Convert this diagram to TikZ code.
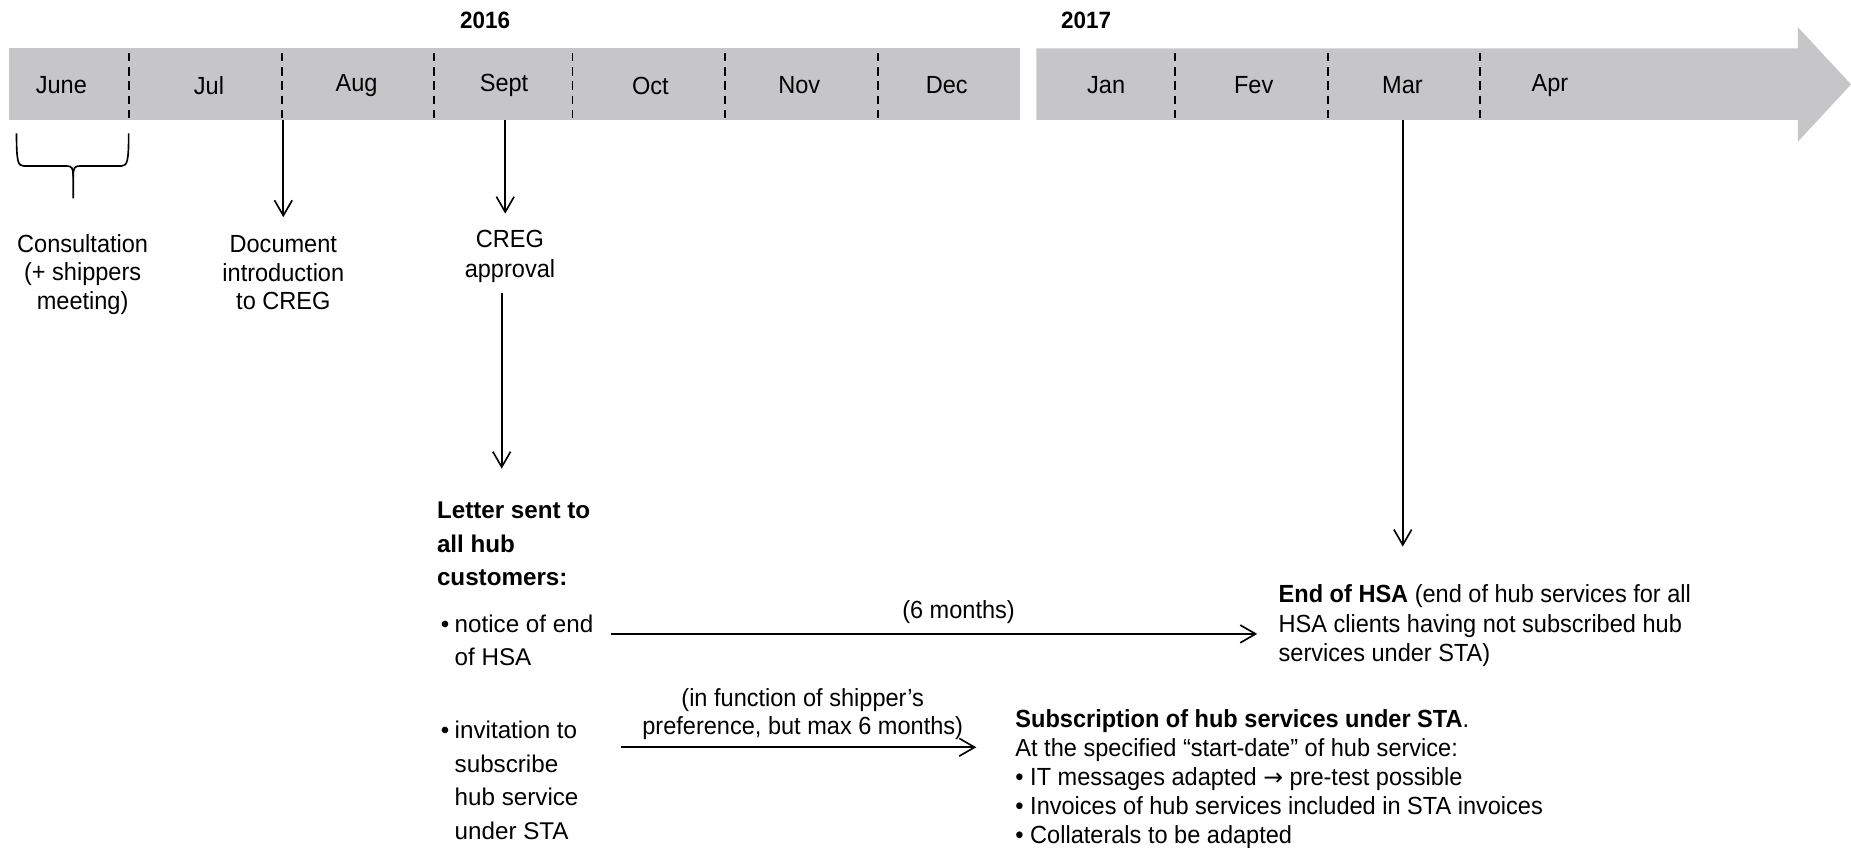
\documentclass[tikz,border=0pt]{standalone}
\usepackage{fontspec}
\setmainfont[FakeStretch=0.95]{Liberation Sans}
\newfontfamily\lettfont{Liberation Sans}
\newfontfamily\arrowfont{DejaVu Sans}
\usetikzlibrary{arrows.meta}
\definecolor{bargray}{RGB}{198,198,200}
\begin{document}
\begin{tikzpicture}[x=1pt,y=-1pt,
  txt/.style={font=\fontsize{21}{24}\selectfont, inner sep=0pt, align=center},
  month/.style={txt},
  yearlbl/.style={txt, font=\fontsize{20}{24}\selectfont\bfseries},
  lett/.style={font=\lettfont\fontsize{20.5}{28.5}\selectfont, inner sep=0pt, align=left},
  body/.style={font=\fontsize{21}{24.75}\selectfont, inner sep=0pt, align=left},
  divider/.style={line width=1.6pt, dash pattern=on 7pt off 5pt},
  arr/.style={line width=1.4pt, -{Straight Barb[length=13pt,width=15pt,line width=1.4pt]}},
  bracestyle/.style={line width=1.4pt}
]
\useasboundingbox (0,0) rectangle (1568,718);
% timeline bars
\fill[bargray] (7.6,41) rectangle (864,101.6);
\fill[bargray] (878,41) -- (1523,41) -- (1523,23) -- (1568,71.5) -- (1523,120) -- (1523,101.6) -- (878,101.6) -- cycle;
\foreach \x in {109,239,368,485,614,744,995,1125,1254}
  \draw[divider] (\x,45) -- (\x,100);
% years
\node[yearlbl] (y2016) at (411,17) {2016};
\node[yearlbl] (y2017) at (920,17) {2017};
% months
\node[month] (mjun) at (52,72.5) {June};
\node[month] (mjul) at (177,72.5) {Jul};
\node[month] (maug) at (302,72.5) {Aug};
\node[month] (msep) at (427,72.5) {Sept};
\node[month] (moct) at (551,72.5) {Oct};
\node[month] (mnov) at (677,72.5) {Nov};
\node[month] (mdec) at (802,72.5) {Dec};
\node[month] (mjan) at (937,72.5) {Jan};
\node[month] (mfev) at (1062,72.5) {Fev};
\node[month] (mmar) at (1188,72.5) {Mar};
\node[month] (mapr) at (1313,72.5) {Apr};
% brace
\draw[bracestyle] (14,113) .. controls (14,136) and (15,140.6) .. (20,140.6) -- (56,140.6) .. controls (61,140.6) and (62,142) .. (62,150) -- (62,168);
\draw[bracestyle] (109,113) .. controls (109,136) and (108,140.6) .. (103,140.6) -- (68,140.6) .. controls (63,140.6) and (62,142) .. (62,150);
% texts under timeline
\node[txt] (consult) at (70,232.5) {Consultation\\(+ shippers\\meeting)};
\node[txt] (doc) at (240,231) {Document\\introduction\\to CREG};
\node[txt, font=\fontsize{21}{25}\selectfont] (creg) at (432,217) {CREG\\approval};
% letter
\node[lett, anchor=north west] (letter) at (370,425) {\textbf{Letter sent to}\\\textbf{all hub}\\\textbf{customers:}};
\node[lett, anchor=base] (dot1) at (377,535.5) {•};
\node[lett, anchor=west] (notice) at (385,542.5) {notice of end\\of HSA};
\node[lett, anchor=base] (dot2) at (377,625.5) {•};
\node[lett, anchor=west] (invite) at (385,661) {invitation to\\subscribe\\hub service\\under STA};
% right texts
\node[body, anchor=west] (endhsa) at (1083,530) {\textbf{End of HSA} (end of hub services for all\\HSA clients having not subscribed hub\\services under STA)};
\node[body, anchor=west] (subs) at (860,660) {\textbf{Subscription of hub services under STA}.\\At the specified “start-date” of hub service:\\• IT messages adapted {\arrowfont\fontsize{20}{24}\selectfont →} pre-test possible\\• Invoices of hub services included in STA invoices\\• Collaterals to be adapted};
% arrow labels
\node[txt] (sixm) at (812,518.5) {(6 months)};
\node[txt] (infunc) at (680,605) {(in function of shipper’s\\preference, but max 6 months)};
% arrow coordinates
\coordinate (docA) at (240,102);
\coordinate (docB) at (240,184);
\coordinate (cregA) at (428,102);
\coordinate (cregB) at (428,181);
\coordinate (letA) at (425,248);
\coordinate (letB) at (425,397);
\coordinate (marA) at (1188.3,102);
\coordinate (marB) at (1188.3,463);
\coordinate (sixA) at (518,537);
\coordinate (sixB) at (1065,537);
\coordinate (funA) at (526,633);
\coordinate (funB) at (827,633);
\draw[arr] (docA) -- (docB);
\draw[arr] (cregA) -- (cregB);
\draw[arr] (letA) -- (letB);
\draw[arr] (marA) -- (marB);
\draw[arr] (sixA) -- (sixB);
\draw[arr] (funA) -- (funB);
\end{tikzpicture}
\end{document}
